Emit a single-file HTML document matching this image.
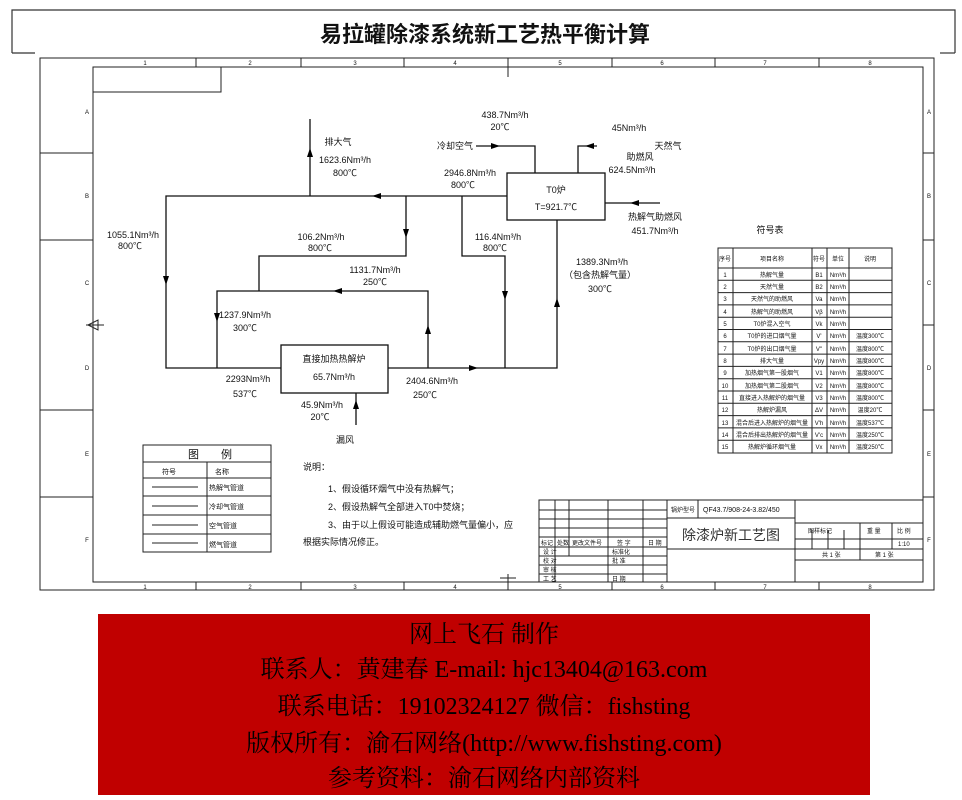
<!DOCTYPE html>
<html><head><meta charset="utf-8"><style>
html,body{margin:0;padding:0;background:#fff;}
svg{display:block;}
.t{font-family:"Liberation Sans","Noto Sans CJK SC",sans-serif;font-size:9px;fill:#111;}
.s{font-family:"Liberation Sans","Noto Sans CJK SC",sans-serif;font-size:6px;fill:#111;}
.b{font-family:"Liberation Serif","Noto Serif CJK SC",serif;font-size:24px;fill:#000;}
</style></head><body>
<svg width="962" height="800" viewBox="0 0 962 800" xmlns="http://www.w3.org/2000/svg">
<defs>
<marker id="a" viewBox="0 0 10 10" refX="5" refY="5" markerWidth="9" markerHeight="9" orient="auto"><path d="M0,2 L10,5 L0,8 z" fill="#000"/></marker>
</defs>
<!-- title bracket -->
<g stroke="#333" stroke-width="1.2" fill="none">
<polyline points="12,53 12,10 955,10 955,53"/>
<line x1="12" y1="53" x2="35" y2="53"/><line x1="940" y1="53" x2="955" y2="53"/>
</g>
<text x="485" y="42" text-anchor="middle" style="font-family:'Liberation Sans','Noto Sans CJK SC',sans-serif;font-size:22px;font-weight:bold" fill="#111">易拉罐除漆系统新工艺热平衡计算</text>
<!-- frame -->
<g stroke="#222" fill="none" stroke-width="1">
<rect x="40" y="58" width="894" height="532"/>
<rect x="93" y="67" width="830" height="515"/>
<polyline points="93,92 221,92 221,67"/>
<line x1="196" y1="58" x2="196" y2="67"/><line x1="301" y1="58" x2="301" y2="67"/><line x1="404" y1="58" x2="404" y2="67"/><line x1="508" y1="58" x2="508" y2="77"/><line x1="612" y1="58" x2="612" y2="67"/><line x1="715" y1="58" x2="715" y2="67"/><line x1="819" y1="58" x2="819" y2="67"/>
<line x1="196" y1="582" x2="196" y2="590"/><line x1="301" y1="582" x2="301" y2="590"/><line x1="404" y1="582" x2="404" y2="590"/><line x1="508" y1="574" x2="508" y2="590"/><line x1="612" y1="582" x2="612" y2="590"/><line x1="715" y1="582" x2="715" y2="590"/><line x1="819" y1="582" x2="819" y2="590"/>
<line x1="40" y1="153" x2="93" y2="153"/><line x1="40" y1="240" x2="93" y2="240"/><line x1="40" y1="410" x2="93" y2="410"/><line x1="40" y1="497" x2="93" y2="497"/>
<line x1="923" y1="153" x2="934" y2="153"/><line x1="923" y1="240" x2="934" y2="240"/><line x1="923" y1="410" x2="934" y2="410"/><line x1="923" y1="497" x2="934" y2="497"/>
<line x1="86" y1="325" x2="104" y2="325"/>
<line x1="923" y1="325" x2="934" y2="325"/>
<path d="M88,325 L98,320 L98,330 z"/>
</g>
<g class="s" text-anchor="middle">
<text x="145" y="65">1</text><text x="250" y="65">2</text><text x="355" y="65">3</text><text x="455" y="65">4</text><text x="560" y="65">5</text><text x="662" y="65">6</text><text x="765" y="65">7</text><text x="870" y="65">8</text>
<text x="145" y="589">1</text><text x="250" y="589">2</text><text x="355" y="589">3</text><text x="455" y="589">4</text><text x="560" y="589">5</text><text x="662" y="589">6</text><text x="765" y="589">7</text><text x="870" y="589">8</text>
<text x="87" y="114">A</text><text x="87" y="198">B</text><text x="87" y="285">C</text><text x="87" y="370">D</text><text x="87" y="456">E</text><text x="87" y="542">F</text>
<text x="929" y="114">A</text><text x="929" y="198">B</text><text x="929" y="285">C</text><text x="929" y="370">D</text><text x="929" y="456">E</text><text x="929" y="542">F</text>
</g>
<!-- flow diagram -->
<g stroke="#111" stroke-width="1.3" fill="none">
<polyline points="507,196 166,196 166,368 281,368"/>
<line x1="310" y1="196" x2="310" y2="119"/>
<polyline points="406,196 406,256 259,256 259,291"/>
<polyline points="428,368 428,291 217,291 217,368"/>
<polyline points="462,196 462,256 505,256 505,368"/>
<polyline points="388,368 557,368 557,220"/>
<rect x="507" y="173" width="98" height="47"/>
<rect x="281" y="345" width="107" height="48"/>
<polyline points="476,146 535,146 535,173"/>
<polyline points="597,146 578,146 578,173"/>
<line x1="605" y1="203" x2="660" y2="203"/>
<line x1="356" y1="393" x2="356" y2="425"/>
</g>
<g fill="#000">
<path d="M310,148 l-3,9 h6z"/>
<path d="M372,196 l9,-3 v6z"/>
<path d="M406,238 l-3,-9 h6z"/>
<path d="M166,285 l-3,-9 h6z"/>
<path d="M333,291 l9,-3 v6z"/>
<path d="M217,322 l-3,-9 h6z"/>
<path d="M428,325 l-3,9 h6z"/>
<path d="M505,300 l-3,-9 h6z"/>
<path d="M557,298 l-3,9 h6z"/>
<path d="M478,368 l-9,-3 v6z"/>
<path d="M500,146 l-9,-3 v6z"/>
<path d="M585,146 l9,-3 v6z"/>
<path d="M630,203 l9,-3 v6z"/>
<path d="M356,400 l-3,9 h6z"/>
</g>
<g class="t" text-anchor="middle">
<text x="505" y="118">438.7Nm³/h</text><text x="500" y="130">20℃</text>
<text x="455" y="149">冷却空气</text>
<text x="629" y="131">45Nm³/h</text><text x="668" y="149">天然气</text><text x="640" y="160">助燃风</text><text x="632" y="173">624.5Nm³/h</text>
<text x="338" y="145">排大气</text><text x="345" y="163">1623.6Nm³/h</text><text x="345" y="176">800℃</text>
<text x="470" y="176">2946.8Nm³/h</text><text x="463" y="188">800℃</text>
<text x="556" y="193">T0炉</text><text x="556" y="210">T=921.7℃</text>
<text x="655" y="220">热解气助燃风</text><text x="655" y="234">451.7Nm³/h</text>
<text x="133" y="238">1055.1Nm³/h</text><text x="130" y="249">800℃</text>
<text x="321" y="240">106.2Nm³/h</text><text x="320" y="251">800℃</text>
<text x="498" y="240">116.4Nm³/h</text><text x="495" y="251">800℃</text>
<text x="602" y="265">1389.3Nm³/h</text><text x="600" y="278">（包含热解气量）</text><text x="600" y="292">300℃</text>
<text x="375" y="273">1131.7Nm³/h</text><text x="375" y="285">250℃</text>
<text x="245" y="318">1237.9Nm³/h</text><text x="245" y="331">300℃</text>
<text x="334" y="362">直接加热热解炉</text><text x="334" y="380">65.7Nm³/h</text>
<text x="248" y="382">2293Nm³/h</text><text x="245" y="397">537℃</text>
<text x="432" y="384">2404.6Nm³/h</text><text x="425" y="398">250℃</text>
<text x="322" y="408">45.9Nm³/h</text><text x="320" y="420">20℃</text>
<text x="345" y="443">漏风</text>
</g>
<!-- notes -->
<g class="t">
<text x="303" y="470">说明：</text>
<text x="328" y="492">1、假设循环烟气中没有热解气；</text>
<text x="328" y="510">2、假设热解气全部进入T0中焚烧；</text>
<text x="328" y="528">3、由于以上假设可能造成辅助燃气量偏小，应</text>
<text x="303" y="545">根据实际情况修正。</text>
</g>
<!-- legend -->
<g stroke="#222" fill="none" stroke-width="1">
<rect x="143" y="445" width="128" height="107"/>
<line x1="143" y1="462" x2="271" y2="462"/><line x1="143" y1="478" x2="271" y2="478"/><line x1="143" y1="496" x2="271" y2="496"/><line x1="143" y1="515" x2="271" y2="515"/><line x1="143" y1="534" x2="271" y2="534"/>
<line x1="207" y1="462" x2="207" y2="552"/>
<line x1="152" y1="487" x2="198" y2="487"/><line x1="152" y1="506" x2="198" y2="506"/><line x1="152" y1="525" x2="198" y2="525"/><line x1="152" y1="543" x2="198" y2="543"/>
</g>
<g class="t">
<text x="188" y="458" style="font-size:11px">图　　例</text>
<text x="162" y="474" style="font-size:7px">符号</text><text x="215" y="474" style="font-size:7px">名称</text>
<text x="209" y="490" style="font-size:7px">热解气管道</text><text x="209" y="509" style="font-size:7px">冷却气管道</text><text x="209" y="528" style="font-size:7px">空气管道</text><text x="209" y="547" style="font-size:7px">燃气管道</text>
</g>
<!-- symbol table -->
<g stroke="#222" fill="none" stroke-width="1">
<rect x="718" y="248" width="174" height="205"/>
<line x1="718" y1="268" x2="892" y2="268"/>
<line x1="733" y1="248" x2="733" y2="453"/><line x1="812" y1="248" x2="812" y2="453"/><line x1="827" y1="248" x2="827" y2="453"/><line x1="849" y1="248" x2="849" y2="453"/>
<line x1="718" y1="280.3" x2="892" y2="280.3"/><line x1="718" y1="292.6" x2="892" y2="292.6"/><line x1="718" y1="304.9" x2="892" y2="304.9"/><line x1="718" y1="317.2" x2="892" y2="317.2"/><line x1="718" y1="329.5" x2="892" y2="329.5"/><line x1="718" y1="341.8" x2="892" y2="341.8"/><line x1="718" y1="354.1" x2="892" y2="354.1"/><line x1="718" y1="366.4" x2="892" y2="366.4"/><line x1="718" y1="378.7" x2="892" y2="378.7"/><line x1="718" y1="391" x2="892" y2="391"/><line x1="718" y1="403.3" x2="892" y2="403.3"/><line x1="718" y1="415.6" x2="892" y2="415.6"/><line x1="718" y1="427.9" x2="892" y2="427.9"/><line x1="718" y1="440.2" x2="892" y2="440.2"/>
</g>
<text x="770" y="233" class="t" text-anchor="middle">符号表</text>
<g class="s" text-anchor="middle">
<text x="725" y="261">序号</text><text x="772" y="261">项目名称</text><text x="819" y="261">符号</text><text x="838" y="261">单位</text><text x="870" y="261">说明</text>
<text x="725" y="277">1</text><text x="772" y="277">热解气量</text><text x="819" y="277">B1</text><text x="838" y="277">Nm³/h</text>
<text x="725" y="289">2</text><text x="772" y="289">天然气量</text><text x="819" y="289">B2</text><text x="838" y="289">Nm³/h</text>
<text x="725" y="301">3</text><text x="772" y="301">天然气的助燃风</text><text x="819" y="301">Va</text><text x="838" y="301">Nm³/h</text>
<text x="725" y="314">4</text><text x="772" y="314">热解气的助燃风</text><text x="819" y="314">Vβ</text><text x="838" y="314">Nm³/h</text>
<text x="725" y="326">5</text><text x="772" y="326">T0炉混入空气</text><text x="819" y="326">Vk</text><text x="838" y="326">Nm³/h</text>
<text x="725" y="338">6</text><text x="772" y="338">T0炉的进口烟气量</text><text x="819" y="338">V'</text><text x="838" y="338">Nm³/h</text><text x="870" y="338">温度300℃</text>
<text x="725" y="351">7</text><text x="772" y="351">T0炉的出口烟气量</text><text x="819" y="351">V''</text><text x="838" y="351">Nm³/h</text><text x="870" y="351">温度800℃</text>
<text x="725" y="363">8</text><text x="772" y="363">排大气量</text><text x="819" y="363">Vpy</text><text x="838" y="363">Nm³/h</text><text x="870" y="363">温度800℃</text>
<text x="725" y="375">9</text><text x="772" y="375">加热烟气第一股烟气</text><text x="819" y="375">V1</text><text x="838" y="375">Nm³/h</text><text x="870" y="375">温度800℃</text>
<text x="725" y="388">10</text><text x="772" y="388">加热烟气第二股烟气</text><text x="819" y="388">V2</text><text x="838" y="388">Nm³/h</text><text x="870" y="388">温度800℃</text>
<text x="725" y="400">11</text><text x="772" y="400">直接进入热解炉的烟气量</text><text x="819" y="400">V3</text><text x="838" y="400">Nm³/h</text><text x="870" y="400">温度800℃</text>
<text x="725" y="412">12</text><text x="772" y="412">热解炉漏风</text><text x="819" y="412">ΔV</text><text x="838" y="412">Nm³/h</text><text x="870" y="412">温度20℃</text>
<text x="725" y="425">13</text><text x="772" y="425">混合后进入热解炉的烟气量</text><text x="819" y="425">V'h</text><text x="838" y="425">Nm³/h</text><text x="870" y="425">温度537℃</text>
<text x="725" y="437">14</text><text x="772" y="437">混合后排出热解炉的烟气量</text><text x="819" y="437">V'c</text><text x="838" y="437">Nm³/h</text><text x="870" y="437">温度250℃</text>
<text x="725" y="449">15</text><text x="772" y="449">热解炉循环烟气量</text><text x="819" y="449">Vx</text><text x="838" y="449">Nm³/h</text><text x="870" y="449">温度250℃</text>
</g>
<!-- title block -->
<g stroke="#222" fill="none" stroke-width="1">
<polyline points="539,582 539,500 923,500"/>
<line x1="555" y1="500" x2="555" y2="582"/><line x1="569" y1="500" x2="569" y2="556"/><line x1="608" y1="500" x2="608" y2="582"/><line x1="643" y1="500" x2="643" y2="582"/><line x1="667" y1="500" x2="667" y2="582"/>
<line x1="539" y1="510" x2="667" y2="510"/><line x1="539" y1="519" x2="667" y2="519"/><line x1="539" y1="528" x2="667" y2="528"/><line x1="539" y1="537" x2="667" y2="537"/><line x1="539" y1="547" x2="667" y2="547"/><line x1="539" y1="556" x2="667" y2="556"/><line x1="539" y1="565" x2="667" y2="565"/><line x1="539" y1="574" x2="667" y2="574"/>
<line x1="698" y1="500" x2="698" y2="518"/><line x1="667" y1="518" x2="795" y2="518"/><line x1="667" y1="549" x2="795" y2="549"/>
<line x1="795" y1="500" x2="795" y2="582"/>
<line x1="795" y1="523" x2="923" y2="523"/><line x1="795" y1="539" x2="923" y2="539"/><line x1="795" y1="549" x2="923" y2="549"/><line x1="795" y1="560" x2="923" y2="560"/>
<line x1="860" y1="523" x2="860" y2="560"/><line x1="892" y1="523" x2="892" y2="549"/>
<line x1="812" y1="530" x2="812" y2="549"/><line x1="828" y1="530" x2="828" y2="549"/><line x1="844" y1="530" x2="844" y2="549"/>
<line x1="508" y1="574" x2="508" y2="590"/><line x1="500" y1="578" x2="516" y2="578"/>
</g>
<g class="s">
<text x="671" y="512">锅炉型号</text><text x="703" y="512" style="font-size:7px">QF43.7/908-24-3.82/450</text>
<text x="541" y="545">标记</text><text x="557" y="545">处数</text><text x="572" y="545">更改文件号</text><text x="617" y="545">签 字</text><text x="648" y="545">日 期</text>
<text x="543" y="554">设 计</text><text x="543" y="563">校 对</text><text x="543" y="572">审 核</text><text x="543" y="581">工 艺</text>
<text x="612" y="554">标准化</text><text x="612" y="563">批 准</text><text x="612" y="581">日 期</text>
<text x="808" y="533">图样标记</text><text x="867" y="533">重 量</text><text x="897" y="533">比 例</text><text x="898" y="546">1:10</text>
<text x="822" y="557">共 1 张</text><text x="875" y="557">第 1 张</text>
</g>
<text x="731" y="540" text-anchor="middle" style="font-family:'Liberation Sans','Noto Sans CJK SC',sans-serif;font-size:14px" fill="#333">除漆炉新工艺图</text>
<!-- banner -->
<rect x="98" y="614" width="772" height="181" fill="#c00000"/>
<g class="b" text-anchor="middle">
<text x="484" y="642">网上飞石 制作</text>
<text x="484" y="677">联系人：黄建春 E-mail: hjc13404@163.com</text>
<text x="484" y="714">联系电话：19102324127 微信：fishsting</text>
<text x="484" y="751">版权所有：渝石网络(http://www.fishsting.com)</text>
<text x="484" y="786">参考资料：渝石网络内部资料</text>
</g>
</svg>
</body></html>
